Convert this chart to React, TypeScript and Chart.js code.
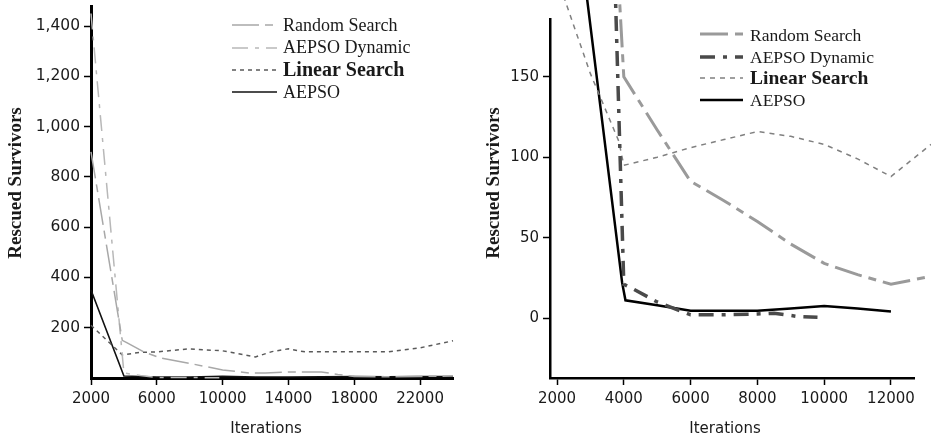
import React, { useEffect, useRef } from "react";
import { Chart, registerables } from "chart.js";

Chart.register(...registerables);

// ---------- shared labels ----------
const seriesLabels = ["Random Search", "AEPSO Dynamic", "Linear Search", "AEPSO"];
const xTitle = "Iterations";
const yTitle = "Rescued Survivors";

// ---------- left panel data ----------
const leftRandomIters = [2000, 3900, 4200, 5200, 6200, 8000, 10000, 11600, 12600, 14000, 16000, 17000, 18000, 20000, 22000, 24000];
const leftRandomValues = [900, 150, 140, 104, 80, 58, 32, 20, 20, 24, 24, 14, 6, 5, 6, 8];

const leftDynamicIters = [2000, 4000, 5000, 6000, 8000, 9800];
const leftDynamicValues = [1450, 20, 10, 2, 2, 0.5];

const leftLinearIters = [2000, 3900, 5000, 6000, 8000, 10000, 12000, 13000, 14000, 15000, 16000, 18000, 20000, 22000, 24000];
const leftLinearValues = [210, 92, 102, 104, 116, 108, 84, 105, 116, 104, 104, 104, 104, 120, 148];

const leftAepsoIters = [2000, 4000, 6000, 8000, 10000, 12000, 14000, 16000, 18000, 20000, 22000, 24000];
const leftAepsoValues = [350, 8, 4, 4, 7, 4, 4, 5, 6, 5, 6, 6];

const leftXTicks = [2000, 6000, 10000, 14000, 18000, 22000];
const leftYTicks = [200, 400, 600, 800, 1000, 1200, 1400];

// ---------- right panel data ----------
const rightRandomIters = [2000, 4000, 5000, 6000, 7000, 8000, 9000, 10000, 11000, 12000, 13200];
const rightRandomValues = [900, 150, 117, 85, 73, 60, 46, 34, 27, 21, 26];

const rightDynamicIters = [2000, 4000, 4200, 5000, 6000, 7000, 8000, 8500, 9200, 9800];
const rightDynamicValues = [1450, 21, 19, 10, 2, 2, 2.5, 3, 1, 0.5];

const rightLinearIters = [2000, 3000, 3850, 4000, 5000, 6000, 7000, 8000, 9000, 10000, 11000, 12000, 13200];
const rightLinearValues = [212, 152, 110, 95, 100, 106, 111, 116, 113, 108, 99, 88, 108];

const rightAepsoIters = [2000, 3950, 4050, 5000, 6000, 7000, 8000, 9000, 10000, 11000, 12000];
const rightAepsoValues = [350, 22, 11, 8, 4.5, 4.5, 4.5, 6, 7.5, 6, 4];

const rightXTicks = [2000, 4000, 6000, 8000, 10000, 12000];
const rightYTicks = [0, 50, 100, 150];

const pts = (xs: number[], ys: number[]) => xs.map((x, i) => ({ x, y: ys[i] }));

const decorPlugin = {
  id: "panelDecor",
  afterDraw(chart: any, _args: any, opts: any) {
    const ctx = chart.ctx as CanvasRenderingContext2D;
    const lg = opts.legend;
    chart.data.datasets.forEach((ds: any, i: number) => {
      const row = lg.rows[i];
      ctx.save();
      ctx.strokeStyle = ds.borderColor;
      ctx.lineWidth = ds.borderWidth;
      ctx.setLineDash(ds.borderDash || []);
      ctx.lineCap = "butt";
      ctx.beginPath();
      ctx.moveTo(lg.x0, row.lineY);
      ctx.lineTo(lg.x1, row.lineY);
      ctx.stroke();
      ctx.restore();
      ctx.save();
      ctx.font = row.font;
      ctx.fillStyle = "#1a1a1a";
      ctx.textAlign = "left";
      ctx.textBaseline = "alphabetic";
      ctx.fillText(ds.label, lg.textX, row.baseline);
      ctx.restore();
    });
    const t = opts.titles;
    ctx.save();
    ctx.fillStyle = "#1a1a1a";
    ctx.textAlign = "center";
    ctx.textBaseline = "alphabetic";
    ctx.font = t.x.font;
    ctx.fillText(t.x.text, t.x.x, t.x.y);
    ctx.translate(t.y.x, t.y.y);
    ctx.rotate(-Math.PI / 2);
    ctx.font = t.y.font;
    ctx.fillText(t.y.text, 0, 0);
    ctx.restore();
  },
};

function makeConfig(p: any) {
  const tickFont = { family: "DejaVu Sans", size: 15 };
  return {
    type: "line",
    data: {
      datasets: p.series.map((s: any) => ({
        label: s.label,
        data: s.data,
        borderColor: s.color,
        borderWidth: s.width,
        borderDash: s.dash,
        pointRadius: 0,
        fill: false,
        tension: 0,
        clip: false,
      })),
    },
    options: {
      animation: false,
      responsive: false,
      events: [],
      layout: { padding: p.padding },
      plugins: {
        legend: { display: false },
        tooltip: { enabled: false },
        panelDecor: { legend: p.legend, titles: p.titles },
      },
      scales: {
        x: {
          type: "linear",
          min: p.xMin,
          max: p.xMax,
          afterBuildTicks: (sc: any) => {
            sc.ticks = p.xTicks.map((v: number) => ({ value: v }));
          },
          afterFit: (sc: any) => {
            sc.height = p.xHeight;
            sc.paddingLeft = 0;
            sc.paddingRight = 0;
          },
          ticks: {
            font: tickFont,
            color: "#1a1a1a",
            padding: 5,
            maxRotation: 0,
            autoSkip: false,
            callback: (v: any) => String(v),
          },
          grid: {
            display: true,
            drawOnChartArea: false,
            drawTicks: true,
            tickLength: 7,
            tickWidth: 1.5,
            tickColor: "#000",
          },
          border: { display: true, color: "#000", width: p.axisWidth },
          title: { display: false },
        },
        y: {
          type: "linear",
          min: p.yMin,
          max: p.yMax,
          afterBuildTicks: (sc: any) => {
            sc.ticks = p.yTicks.map((v: number) => ({ value: v }));
          },
          afterFit: (sc: any) => {
            sc.width = p.yWidth;
            sc.paddingTop = 0;
            sc.paddingBottom = 0;
          },
          ticks: {
            font: { family: "DejaVu Sans", size: p.yTickSize },
            color: "#1a1a1a",
            padding: 4,
            autoSkip: false,
            callback: p.yFormat,
          },
          grid: {
            display: true,
            drawOnChartArea: false,
            drawTicks: true,
            tickLength: 7,
            tickWidth: 1.5,
            tickColor: "#000",
          },
          border: { display: true, color: "#000", width: p.axisWidth },
          title: { display: false },
        },
      },
    },
    plugins: [decorPlugin],
  };
}

const leftParams = {
  series: [
    { label: seriesLabels[0], data: pts(leftRandomIters, leftRandomValues), color: "#a8a8a8", width: 1.5, dash: [27, 6, 8, 6] },
    { label: seriesLabels[1], data: pts(leftDynamicIters, leftDynamicValues), color: "#b8b8b8", width: 1.5, dash: [16, 7, 4, 7] },
    { label: seriesLabels[2], data: pts(leftLinearIters, leftLinearValues), color: "#5a5a5a", width: 1.5, dash: [4, 4] },
    { label: seriesLabels[3], data: pts(leftAepsoIters, leftAepsoValues), color: "#111", width: 1.6, dash: [] },
  ],
  padding: { left: 0, top: 6, right: 17, bottom: 0 },
  xMin: 2000,
  xMax: 24000,
  yMin: 0,
  yMax: 1480,
  xTicks: leftXTicks,
  yTicks: leftYTicks,
  xHeight: 60,
  yWidth: 91,
  axisWidth: 3,
  yTickSize: 15.5,
  yFormat: (v: any) => Number(v).toLocaleString("en-US"),
  legend: {
    x0: 232,
    x1: 277,
    textX: 283,
    rows: [
      { lineY: 25, baseline: 31, font: "18px 'Liberation Serif'" },
      { lineY: 48, baseline: 53, font: "18px 'Liberation Serif'" },
      { lineY: 70, baseline: 76, font: "bold 20px 'Liberation Serif'" },
      { lineY: 92, baseline: 98, font: "18px 'Liberation Serif'" },
    ],
  },
  titles: {
    x: { text: xTitle, x: 266, y: 433, font: "15px 'DejaVu Sans'" },
    y: { text: yTitle, x: 21, y: 183, font: "bold 19px 'Liberation Serif'" },
  },
};

const rightParams = {
  series: [
    { label: seriesLabels[0], data: pts(rightRandomIters, rightRandomValues), color: "#9a9a9a", width: 3, dash: [28, 7, 8, 7] },
    { label: seriesLabels[1], data: pts(rightDynamicIters, rightDynamicValues), color: "#4a4a4a", width: 3.5, dash: [15, 8, 4, 8] },
    { label: seriesLabels[2], data: pts(rightLinearIters, rightLinearValues), color: "#808080", width: 1.5, dash: [5, 5] },
    { label: seriesLabels[3], data: pts(rightAepsoIters, rightAepsoValues), color: "#000", width: 2.5, dash: [] },
  ],
  padding: { left: 0, top: 19, right: 17, bottom: 0 },
  xMin: 1790,
  xMax: 12690,
  yMin: -37.3,
  yMax: 186,
  xTicks: rightXTicks,
  yTicks: rightYTicks,
  xHeight: 60,
  yWidth: 80,
  axisWidth: 2.5,
  yTickSize: 15,
  yFormat: (v: any) => String(v),
  legend: {
    x0: 230,
    x1: 273,
    textX: 280,
    rows: [
      { lineY: 34, baseline: 41, font: "17.5px 'Liberation Serif'" },
      { lineY: 57, baseline: 63, font: "17.5px 'Liberation Serif'" },
      { lineY: 78, baseline: 84, font: "bold 19.5px 'Liberation Serif'" },
      { lineY: 100, baseline: 106, font: "17.5px 'Liberation Serif'" },
    ],
  },
  titles: {
    x: { text: xTitle, x: 255, y: 433, font: "15px 'DejaVu Sans'" },
    y: { text: yTitle, x: 29, y: 183, font: "bold 19px 'Liberation Serif'" },
  },
};

function Panel({ params, left, width }: { params: any; left: number; width: number }) {
  const ref = useRef<HTMLCanvasElement | null>(null);
  useEffect(() => {
    if (!ref.current) return;
    const chart = new Chart(ref.current, makeConfig(params) as any);
    return () => chart.destroy();
  }, [params]);
  return (
    <canvas
      ref={ref}
      width={width}
      height={438}
      style={{ position: "absolute", left, top: 0, width, height: 438, display: "block" }}
    />
  );
}

export default function App() {
  return (
    <div style={{ position: "fixed", left: 0, top: 0, width: 931, height: 438, background: "#fff", overflow: "hidden" }}>
      <Panel params={leftParams} left={0} width={470} />
      <Panel params={rightParams} left={470} width={461} />
    </div>
  );
}
